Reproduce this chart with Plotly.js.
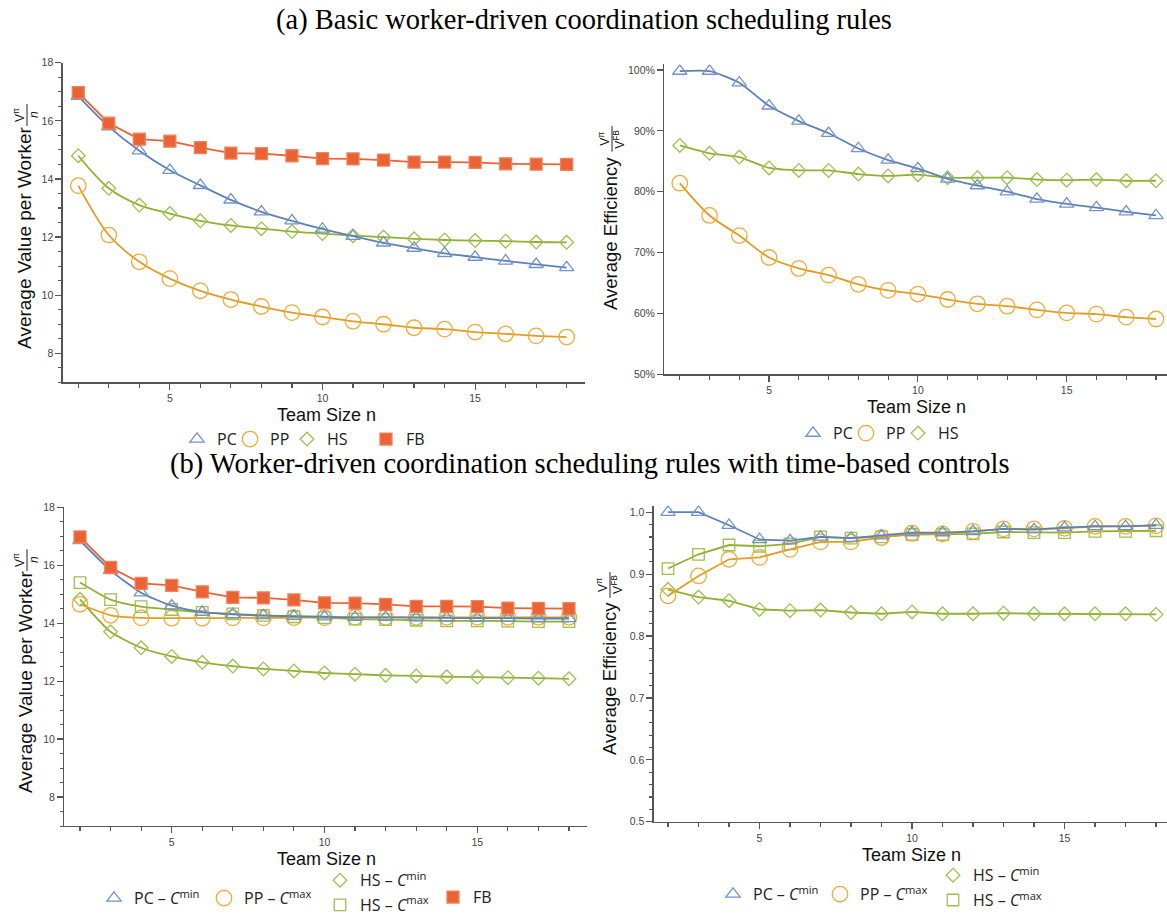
<!DOCTYPE html>
<html>
<head>
<meta charset="utf-8">
<script src="https://cdn.plot.ly/plotly-3.0.1.min.js"></script>
<style>html,body{margin:0;padding:0;background:#fff;}#chart{width:1167px;height:922px;}</style>
</head>
<body>
<div id="chart"></div>
<script>
// ---------------- DATA ----------------
const teamSize = [2,3,4,5,6,7,8,9,10,11,12,13,14,15,16,17,18];

// (a) left: average value per worker
const aValuePC = [16.85,15.80,14.97,14.30,13.78,13.28,12.87,12.56,12.28,12.03,11.80,11.62,11.44,11.31,11.18,11.06,10.95];
const aValuePP = [13.77,12.07,11.15,10.57,10.15,9.85,9.61,9.40,9.25,9.10,9.00,8.88,8.83,8.73,8.67,8.60,8.56];
const aValueHS = [14.80,13.68,13.10,12.81,12.56,12.40,12.29,12.19,12.12,12.05,12.00,11.94,11.90,11.88,11.86,11.83,11.82];
const valueFB  = [16.97,15.92,15.37,15.30,15.08,14.89,14.87,14.80,14.70,14.69,14.65,14.58,14.58,14.57,14.52,14.51,14.50];

// (a) right: average efficiency
const aEffPC = [0.998,0.998,0.979,0.941,0.916,0.896,0.871,0.852,0.838,0.821,0.810,0.800,0.788,0.780,0.774,0.767,0.761];
const aEffPP = [0.814,0.761,0.728,0.692,0.674,0.663,0.648,0.638,0.632,0.623,0.616,0.612,0.606,0.601,0.599,0.594,0.591];
const aEffHS = [0.876,0.863,0.857,0.839,0.835,0.835,0.829,0.826,0.828,0.823,0.823,0.823,0.820,0.819,0.820,0.818,0.818];

// (b) left: average value per worker with time-based controls
const bValuePCmin = [16.85,15.82,15.05,14.60,14.38,14.30,14.26,14.24,14.22,14.20,14.20,14.19,14.18,14.17,14.17,14.16,14.16];
const bValuePPmax = [14.65,14.27,14.18,14.17,14.17,14.18,14.18,14.19,14.19,14.20,14.20,14.20,14.20,14.20,14.20,14.20,14.20];
const bValueHSmin = [14.82,13.70,13.15,12.85,12.65,12.52,12.42,12.35,12.28,12.24,12.20,12.18,12.15,12.14,12.12,12.10,12.08];
const bValueHSmax = [15.40,14.81,14.57,14.47,14.37,14.32,14.27,14.22,14.19,14.14,14.12,14.10,14.08,14.08,14.07,14.05,14.05];

// (b) right: average efficiency with time-based controls
const bEffPCmin = [1.000,1.000,0.979,0.956,0.954,0.960,0.958,0.962,0.967,0.967,0.969,0.973,0.972,0.975,0.977,0.977,0.979];
const bEffPPmax = [0.865,0.897,0.924,0.927,0.940,0.952,0.952,0.959,0.966,0.965,0.969,0.973,0.973,0.974,0.977,0.977,0.978];
const bEffHSmin = [0.875,0.863,0.857,0.843,0.841,0.842,0.838,0.836,0.839,0.836,0.836,0.837,0.836,0.836,0.836,0.836,0.835];
const bEffHSmax = [0.909,0.932,0.947,0.945,0.949,0.960,0.958,0.960,0.964,0.964,0.965,0.968,0.967,0.967,0.969,0.969,0.970];

// labels
const titleA = "(a) Basic worker-driven coordination scheduling rules";
const titleB = "(b) Worker-driven coordination scheduling rules with time-based controls";
const xTitle = "Team Size n";
const yTitleValue = "Average Value per Worker";
const yTitleEff = "Average Efficiency";
const nameSimple = {PC:"PC", PP:"PP", HS:"HS", FB:"FB"};
const nameCtl = {
  PCmin:"PC – <i>C</i><sup>min</sup>",
  PPmax:"PP – <i>C</i><sup>max</sup>",
  HSmin:"HS – <i>C</i><sup>min</sup>",
  HSmax:"HS – <i>C</i><sup>max</sup>"
};

// ---------------- STYLE ----------------
const W = 1167, H = 922;
const fx = p => p / W;
const fy = p => 1 - p / H;

const C = {
  blue:  {line:"#5E81B5", mark:"#7393C8"},
  orange:{line:"#E19C24", mark:"#EFAA3A"},
  green: {line:"#8FB032", mark:"#9DC04E"},
  red:   {line:"#EB6235", mark:"#F0835E"}
};
const SYM = {
  PC:{symbol:"triangle-up-open", size:12.5},
  PP:{symbol:"circle-open", size:15.5},
  HSd:{symbol:"diamond-open", size:10.5},
  HSs:{symbol:"square-open", size:11.5},
  FB:{symbol:"square", size:12}
};

const traces = [];
function addSeries(xa, ya, y, col, sym, name, legendId, shape, smoothing, filled) {
  traces.push({
    x: teamSize, y: y, xaxis: xa, yaxis: ya, mode: "lines",
    line: {color: col.line, width: 1.8, shape: shape, smoothing: smoothing},
    showlegend: false, hoverinfo: "skip"
  });
  traces.push({
    x: teamSize, y: y, xaxis: xa, yaxis: ya, mode: "markers", name: name,
    legend: legendId, showlegend: true,
    marker: {
      symbol: sym.symbol, size: sym.size,
      color: filled ? col.line : col.mark,
      line: {color: col.mark, width: 1.3}
    }
  });
}

// (a) left
addSeries("x","y", aValuePP, C.orange, SYM.PP, nameSimple.PP, "legend2", "spline", 0.9);
addSeries("x","y", aValueHS, C.green, SYM.HSd, nameSimple.HS, "legend3", "spline", 0.9);
addSeries("x","y", aValuePC, C.blue, SYM.PC, nameSimple.PC, "legend", "spline", 0.9);
addSeries("x","y", valueFB, C.red, SYM.FB, nameSimple.FB, "legend4", "linear", 0, true);
// (a) right
addSeries("x2","y2", aEffPP, C.orange, SYM.PP, nameSimple.PP, "legend6", "spline", 0.9);
addSeries("x2","y2", aEffHS, C.green, SYM.HSd, nameSimple.HS, "legend7", "spline", 0.6);
addSeries("x2","y2", aEffPC, C.blue, SYM.PC, nameSimple.PC, "legend5", "spline", 0.6);
// (b) left
addSeries("x3","y3", bValueHSmin, C.green, SYM.HSd, nameCtl.HSmin, "legend10", "spline", 0.6);
addSeries("x3","y3", bValuePPmax, C.orange, SYM.PP, nameCtl.PPmax, "legend9", "spline", 0.6);
addSeries("x3","y3", bValueHSmax, C.green, SYM.HSs, nameCtl.HSmax, "legend11", "spline", 0.6);
addSeries("x3","y3", bValuePCmin, C.blue, SYM.PC, nameCtl.PCmin, "legend8", "spline", 0.6);
addSeries("x3","y3", valueFB, C.red, SYM.FB, nameSimple.FB, "legend12", "linear", 0, true);
// (b) right
addSeries("x4","y4", bEffHSmin, C.green, SYM.HSd, nameCtl.HSmin, "legend15", "linear", 0);
addSeries("x4","y4", bEffHSmax, C.green, SYM.HSs, nameCtl.HSmax, "legend16", "linear", 0);
addSeries("x4","y4", bEffPPmax, C.orange, SYM.PP, nameCtl.PPmax, "legend14", "linear", 0);
addSeries("x4","y4", bEffPCmin, C.blue, SYM.PC, nameCtl.PCmin, "legend13", "linear", 0);

// ---------------- AXES ----------------
const tickFont = {family:"Liberation Sans, Arial, sans-serif", size:10.5, color:"#444"};
function axis(extra) {
  return Object.assign({
    showline:true, linecolor:"#555", linewidth:1.3, mirror:false,
    ticks:"outside", ticklen:6, tickwidth:1.2, tickcolor:"#555",
    showgrid:false, zeroline:false, tickfont:tickFont, fixedrange:true
  }, extra);
}
function xAx(domain, range, anchor) {
  return axis({domain:domain, range:range, anchor:anchor, tickvals:[5,10,15], ticktext:["5","10","15"],
    minor:{tickvals:teamSize, ticks:"outside", ticklen:4, tickwidth:1.1, tickcolor:"#555", showgrid:false}});
}

const layout = {
  width: W, height: H,
  margin: {l:0, r:0, t:0, b:0},
  paper_bgcolor: "#fff", plot_bgcolor: "#fff",
  font: {family:"Liberation Sans, Arial, sans-serif", color:"#222"},
  xaxis:  xAx([fx(62.7), fx(585)], [1.49, 18.6], "y"),
  yaxis:  axis({domain:[fy(385.7), fy(63.3)], range:[7,18], anchor:"x", dtick:2, tick0:0,
           minor:{dtick:0.5, tick0:0, ticks:"outside", ticklen:3.5, tickwidth:1.1, tickcolor:"#555", showgrid:false}}),
  xaxis2: xAx([fx(664.3), 1], [1.48, 18.37], "y2"),
  yaxis2: axis({domain:[fy(377.7), fy(65)], range:[0.5,1.009], anchor:"x2", dtick:0.1, tick0:0, tickformat:".0%"}),
  xaxis3: xAx([fx(64.3), fx(587)], [1.486, 18.59], "y3"),
  yaxis3: axis({domain:[fy(833.3), fy(511.6)], range:[7,18], anchor:"x3", dtick:2, tick0:0,
           minor:{dtick:0.5, tick0:0, ticks:"outside", ticklen:3.5, tickwidth:1.1, tickcolor:"#555", showgrid:false}}),
  xaxis4: xAx([fx(653.7), 1], [1.53, 18.36], "y4"),
  yaxis4: axis({domain:[fy(829), fy(510)], range:[0.5,1.0107], anchor:"x4", dtick:0.1, tick0:0, tickformat:".1f",
           minor:{dtick:0.02, tick0:0, ticks:"outside", ticklen:3.5, tickwidth:1.1, tickcolor:"#555", showgrid:false}}),
  annotations: [],
  shapes: []
};

// ---------------- LEGENDS (one entry each, placed like the reference) ----------------
const legFont = {family:"Open Sans, Noto Sans, sans-serif", size:16, color:"#222"};
function legend(symX, symY) {
  return {x: fx(symX - 20), y: fy(symY), xanchor:"left", yanchor:"middle", orientation:"h",
          bgcolor:"rgba(0,0,0,0)", borderwidth:0, font:legFont, itemclick:false, itemdoubleclick:false,
          tracegroupgap:0};
}
layout.legend   = legend(197, 443);
layout.legend2  = legend(250, 443);
layout.legend3  = legend(307, 443);
layout.legend4  = legend(386, 443);
layout.legend5  = legend(813, 437);
layout.legend6  = legend(866, 437);
layout.legend7  = legend(918, 437);
layout.legend8  = legend(114, 906);
layout.legend9  = legend(224, 906);
layout.legend10 = legend(340, 888);
layout.legend11 = legend(340, 913);
layout.legend12 = legend(453, 905);
layout.legend13 = legend(733, 902);
layout.legend14 = legend(840, 902);
layout.legend15 = legend(953, 883);
layout.legend16 = legend(953, 908);

// ---------------- TEXT ----------------
function ann(text, x, y, size, family, angle, color) {
  layout.annotations.push({text:text, xref:"paper", yref:"paper", x:fx(x), y:fy(y),
    xanchor:"center", yanchor:"middle", showarrow:false, textangle:angle || 0,
    font:{family:family, size:size, color:color || "#111"}});
}
const serif = "Liberation Serif, Times New Roman, serif";
const sans = "Liberation Sans, Arial, sans-serif";
ann(titleA, 584, 20, 28.5, serif, 0, "#000");
ann(titleB, 590, 468, 28.5, serif, 0, "#000");

ann(xTitle, 326, 419, 18, sans);
ann(xTitle, 916, 411, 18, sans);
ann(xTitle, 326, 867, 18, sans);
ann(xTitle, 912, 862, 18, sans);

function fraction(xc, yc, num, den, half) {
  ann(num, xc - 8, yc, 12, sans, -90);
  ann(den, xc + 7, yc, 12, sans, -90);
  layout.shapes.push({type:"line", xref:"paper", yref:"paper",
    x0:fx(xc), x1:fx(xc), y0:fy(yc - half), y1:fy(yc + half), line:{color:"#222", width:1}});
}
// (a) left
ann(yTitleValue, 25, 240, 19, sans, -90);
fraction(27, 116, "V<sup>π</sup>", "<i>n</i>", 11);
// (b) left
ann(yTitleValue, 25, 688, 19, sans, -90);
fraction(27, 565, "V<sup>π</sup>", "<i>n</i>", 11);
// (a) right
ann(yTitleEff, 611, 236, 18.5, sans, -90);
fraction(612, 140, "V<sup>π</sup>", "V<sup>FB</sup>", 13);
// (b) right
ann(yTitleEff, 609, 685, 18.5, sans, -90);
fraction(610, 590, "V<sup>π</sup>", "V<sup>FB</sup>", 13);

Plotly.newPlot("chart", traces, layout, {staticPlot:true, displayModeBar:false});
</script>
</body>
</html>
